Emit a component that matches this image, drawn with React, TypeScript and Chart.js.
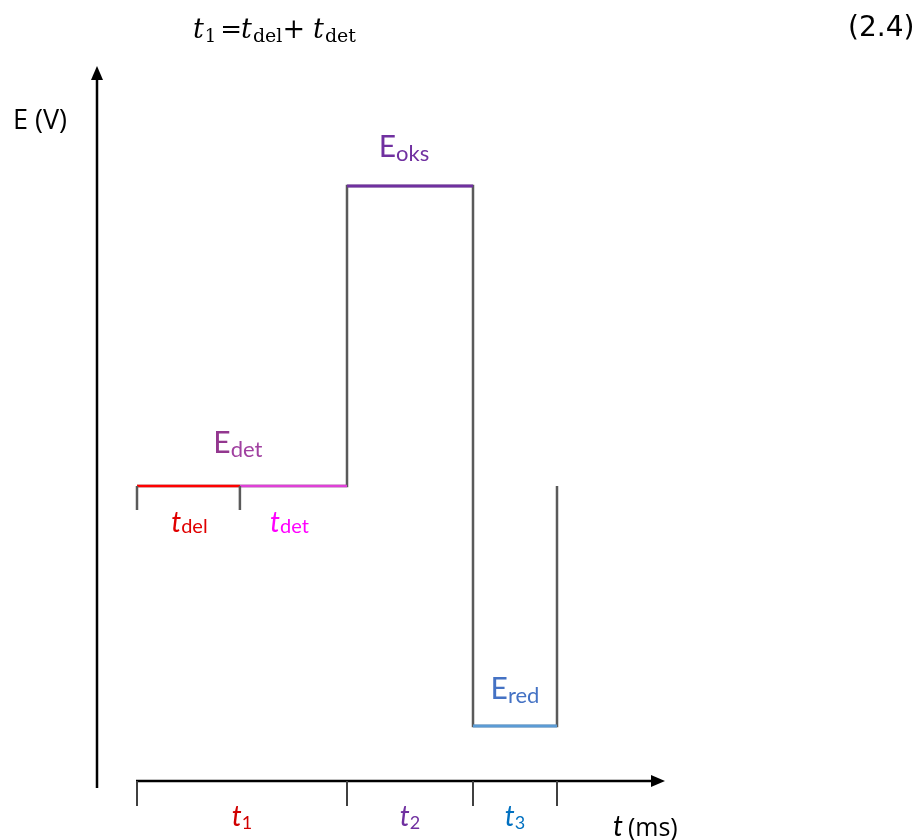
import React, { useEffect, useRef } from "react";
import { Chart, registerables } from "chart.js";

Chart.register(...registerables);

// ---- data (time in ms, potential in V) ----
const boundaryTimes = [0, 4.9, 10, 16, 20]; // start, end t_del, end t1, end t2, end t3
const E_det = 0.2;
const E_oks = 0.5;
const E_red = -0.04;

const waveTimes = [0, 10, 10, 16, 16, 20, 20];
const waveLevels = [E_det, E_det, E_oks, E_oks, E_red, E_red, E_det];

const delTimes = [0, 4.9];
const detTimes = [4.9, 10];
const oksTimes = [10, 16];
const redTimes = [16, 20];

const phaseLabels = ["1", "2", "3"];
const phaseColors = ["#d00000", "#7030a0", "#0070c0"];

const X_MIN = -137 / 21;
const X_MAX = 778 / 21;
const Y_MAX = 0.686;
const Y_MIN = -0.154;

type Part = { text: string; font: string; color: string; dy?: number; gap?: number };

function measureParts(ctx: CanvasRenderingContext2D, parts: Part[]) {
  let w = 0;
  for (const p of parts) {
    ctx.font = p.font;
    w += ctx.measureText(p.text).width + (p.gap || 0);
  }
  return w;
}

function drawParts(ctx: CanvasRenderingContext2D, x: number, y: number, parts: Part[], align: "left" | "center" = "left") {
  let cx = x;
  if (align === "center") cx = x - measureParts(ctx, parts) / 2;
  ctx.textAlign = "left";
  ctx.textBaseline = "alphabetic";
  for (const p of parts) {
    ctx.font = p.font;
    ctx.fillStyle = p.color;
    ctx.fillText(p.text, cx, y + (p.dy || 0));
    cx += ctx.measureText(p.text).width + (p.gap || 0);
  }
}

const LATO = '"Lato", "Noto Sans", sans-serif';
const OPEN = '"Open Sans", "Noto Sans", sans-serif';
const DJS = '"DejaVu Sans", sans-serif';
const SERIF = '"DejaVu Serif", serif';

const diagramPlugin = {
  id: "diagram",
  afterDatasetsDraw(chart: any) {
    const ctx: CanvasRenderingContext2D = chart.ctx;
    const xs = chart.scales.x;
    const ys = chart.scales.y;
    const px = (v: number) => xs.getPixelForValue(v);
    const py = (v: number) => ys.getPixelForValue(v);
    ctx.save();

    // small gray ticks under E_det segment
    ctx.strokeStyle = "#5a5a5a";
    ctx.lineWidth = 2.5;
    for (const t of [boundaryTimes[0], boundaryTimes[1]]) {
      ctx.beginPath();
      ctx.moveTo(px(t), py(E_det));
      ctx.lineTo(px(t), py(E_det) + 24);
      ctx.stroke();
    }

    // axes
    const axX = px(boundaryTimes[0]) - 40;
    const axY = py(E_red) + 55;
    const yTop = py(E_oks) - 120;
    const xTip = px(boundaryTimes[4]) + 108;
    ctx.strokeStyle = "#000";
    ctx.fillStyle = "#000";
    ctx.lineWidth = 2.5;
    ctx.beginPath();
    ctx.moveTo(axX, axY + 7);
    ctx.lineTo(axX, yTop + 12);
    ctx.stroke();
    ctx.beginPath();
    ctx.moveTo(axX, yTop);
    ctx.lineTo(axX - 6, yTop + 14);
    ctx.lineTo(axX + 6, yTop + 14);
    ctx.closePath();
    ctx.fill();

    ctx.beginPath();
    ctx.moveTo(px(boundaryTimes[0]) - 1, axY);
    ctx.lineTo(xTip - 12, axY);
    ctx.stroke();
    ctx.beginPath();
    ctx.moveTo(xTip, axY);
    ctx.lineTo(xTip - 14, axY - 6);
    ctx.lineTo(xTip - 14, axY + 6);
    ctx.closePath();
    ctx.fill();

    ctx.strokeStyle = "#404040";
    ctx.lineWidth = 2;
    for (const t of [boundaryTimes[0], boundaryTimes[2], boundaryTimes[3], boundaryTimes[4]]) {
      ctx.beginPath();
      ctx.moveTo(px(t), axY);
      ctx.lineTo(px(t), axY + 25);
      ctx.stroke();
    }

    // phase labels t1 t2 t3
    const phaseBounds = [boundaryTimes[0], boundaryTimes[2], boundaryTimes[3], boundaryTimes[4]];
    for (let i = 0; i < 3; i++) {
      const mid = (px(phaseBounds[i]) + px(phaseBounds[i + 1])) / 2;
      drawParts(ctx, mid, axY + 45, [
        { text: "t", font: `italic 28px ${LATO}`, color: phaseColors[i], gap: 0 },
        { text: phaseLabels[i], font: `18px ${LATO}`, color: phaseColors[i], dy: 3 },
      ], "center");
    }

    // t (ms)
    drawParts(ctx, xTip - 52, axY + 55, [
      { text: "t", font: `italic 28px ${LATO}`, color: "#000", gap: 5 },
      { text: "(ms)", font: `25px ${OPEN}`, color: "#000" },
    ]);

    // E (V)
    drawParts(ctx, axX - 84, 129, [{ text: "E (V)", font: `27px ${OPEN}`, color: "#000" }]);

    // level labels
    drawParts(ctx, (px(oksTimes[0]) + px(oksTimes[1])) / 2 - 6, py(E_oks) - 29, [
      { text: "E", font: `30px ${LATO}`, color: "#7030a0" },
      { text: "oks", font: `22px ${LATO}`, color: "#7030a0", dy: 4 },
    ], "center");
    drawParts(ctx, px(detTimes[0]) - 2, py(E_det) - 33, [
      { text: "E", font: `30px ${LATO}`, color: "#93378f" },
      { text: "det", font: `22px ${LATO}`, color: "#a040a0", dy: 4 },
    ], "center");
    drawParts(ctx, (px(redTimes[0]) + px(redTimes[1])) / 2, py(E_red) - 27, [
      { text: "E", font: `30px ${LATO}`, color: "#4472c4" },
      { text: "red", font: `22px ${LATO}`, color: "#4472c4", dy: 4 },
    ], "center");

    drawParts(ctx, (px(delTimes[0]) + px(delTimes[1])) / 2 + 1, py(E_det) + 46, [
      { text: "t", font: `italic 28px ${LATO}`, color: "#e00000" },
      { text: "del", font: `20px ${LATO}`, color: "#e00000", dy: 1 },
    ], "center");
    drawParts(ctx, (px(detTimes[0]) + px(detTimes[1])) / 2 - 4, py(E_det) + 46, [
      { text: "t", font: `italic 28px ${LATO}`, color: "#ff00ff" },
      { text: "det", font: `20px ${LATO}`, color: "#ff00ff", dy: 1 },
    ], "center");

    // equation
    drawParts(ctx, 193, 38, [
      { text: "t", font: `italic 27px ${SERIF}`, color: "#000", gap: 1 },
      { text: "1", font: `18px ${SERIF}`, color: "#000", dy: 4, gap: 4 },
      { text: "=", font: `26px ${SERIF}`, color: "#000", gap: -1 },
      { text: "t", font: `italic 27px ${SERIF}`, color: "#000", gap: 1 },
      { text: "del", font: `19px ${SERIF}`, color: "#000", dy: 4, gap: 0 },
      { text: "+", font: `27px ${SERIF}`, color: "#000", gap: 8 },
      { text: "t", font: `italic 27px ${SERIF}`, color: "#000", gap: 1 },
      { text: "det", font: `19px ${SERIF}`, color: "#000", dy: 4 },
    ]);
    drawParts(ctx, 848, 36, [{ text: "(2.4)", font: `28px ${DJS}`, color: "#000" }]);

    ctx.restore();
  },
};

function pts(ts: number[], es: number[]) {
  return ts.map((t, i) => ({ x: t, y: es[i] }));
}

export default function App() {
  const ref = useRef<HTMLCanvasElement | null>(null);
  useEffect(() => {
    if (!ref.current) return;
    const line = (data: any, color: string, order: number, width = 2.5) => ({
      data,
      borderColor: color,
      borderWidth: width,
      showLine: true,
      pointRadius: 0,
      fill: false,
      tension: 0,
      order,
    });
    const chart = new Chart(ref.current, {
      type: "scatter",
      data: {
        datasets: [
          line(pts(waveTimes, waveLevels), "#5a5a5a", 5),
          line(pts(delTimes, [E_det, E_det]), "#ff0000", 1),
          line(pts(detTimes, [E_det, E_det]), "#e040d8", 1),
          line(pts(oksTimes, [E_oks, E_oks]), "#7030a0", 1, 3),
          line(pts(redTimes, [E_red, E_red]), "#5b9bd5", 1, 3),
        ],
      },
      options: {
        responsive: false,
        animation: false,
        layout: { padding: 0 },
        plugins: { legend: { display: false }, tooltip: { enabled: false } },
        scales: {
          x: { type: "linear", min: X_MIN, max: X_MAX, display: false },
          y: { type: "linear", min: Y_MIN, max: Y_MAX, display: false },
        },
      },
      plugins: [diagramPlugin],
    });
    return () => chart.destroy();
  }, []);
  return (
    <div style={{ position: "fixed", left: 0, top: 0, width: 915, height: 840, background: "#fff" }}>
      <canvas ref={ref} width={915} height={840} style={{ display: "block" }} />
    </div>
  );
}
